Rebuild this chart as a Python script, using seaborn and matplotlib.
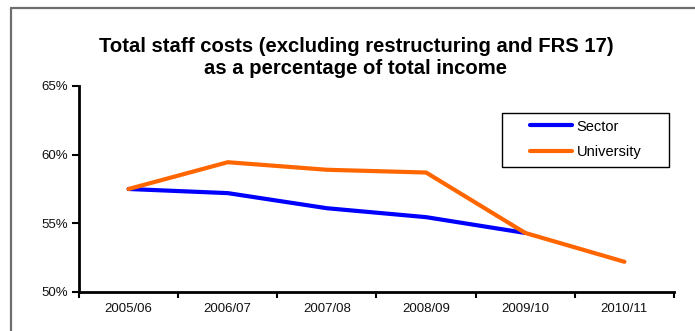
import numpy as np
import pandas as pd
import matplotlib
matplotlib.use("Agg")
import matplotlib.pyplot as plt
from matplotlib.lines import Line2D
from matplotlib.patches import Rectangle
import seaborn as sns

# Financial years and the two series (percent of total income)
years = ["2005/06", "2006/07", "2007/08", "2008/09", "2009/10", "2010/11"]
sector = [57.5, 57.2, 56.1, 55.45, 54.3, np.nan]
university = [57.5, 59.45, 58.9, 58.7, 54.3, 52.2]
y_ticks = [50, 55, 60, 65]

df = pd.DataFrame({
    "pos": list(range(len(years))) * 2,
    "value": sector + university,
    "series": ["Sector"] * len(years) + ["University"] * len(years),
})

sns.set_style("white")
plt.rcParams["font.family"] = ["Liberation Sans", "DejaVu Sans"]
plt.rcParams["text.color"] = "black"

W, H = 695, 331
fig = plt.figure(figsize=(W / 100, H / 100), dpi=100)
ax = fig.add_axes([79 / W, 1 - 292 / H, (674 - 79) / W, (292 - 86) / H])

sns.lineplot(data=df, x="pos", y="value", hue="series",
             palette={"Sector": "#0000ff", "University": "#ff6600"},
             linewidth=3, ax=ax, legend=False, sort=False)

ax.set_xlim(-0.5, len(years) - 0.5)
ax.set_ylim(50, 65)
ax.set_yticks(y_ticks)
ax.set_yticklabels([f"{v}%" for v in y_ticks], fontsize=9.5, color="#111111")
ax.set_xticks(range(len(years)))
ax.set_xticklabels(years, fontsize=9.5, color="#111111")
ax.set_xticks(np.arange(-0.5, len(years), 1.0), minor=True)
ax.tick_params(axis="x", which="major", length=0, pad=8)
ax.tick_params(axis="x", which="minor", length=4, width=1.5, color="black",
               direction="out", bottom=True)
ax.tick_params(axis="y", which="major", length=5, width=1.5, color="black",
               direction="out", left=True, pad=3)
ax.set_xlabel("")
ax.set_ylabel("")
for side in ("top", "right"):
    ax.spines[side].set_visible(False)
for side in ("left", "bottom"):
    ax.spines[side].set_color("black")
    ax.spines[side].set_linewidth(2)
ax.grid(False)

# Legend box drawn separately so the entries can sit inset within it
fig.add_artist(Rectangle((502 / W, 1 - 167 / H), (669 - 502) / W, (167 - 113) / H,
                         transform=fig.transFigure, facecolor="white",
                         edgecolor="black", lw=1, zorder=5))
handles = [Line2D([], [], color="#0000ff", lw=3),
           Line2D([], [], color="#ff6600", lw=3)]
leg = fig.legend(handles, ["Sector", "University"], loc="upper left",
                 bbox_to_anchor=(530 / W, 1 - 119.5 / H),
                 frameon=False, fontsize=10.5, handlelength=2.9,
                 handletextpad=0.3, borderpad=0, labelspacing=0.8,
                 borderaxespad=0)
leg.set_zorder(6)

fig.text(356 / W, 1 - 58 / H,
         "Total staff costs (excluding restructuring and FRS 17)\nas a percentage of total income",
         ha="center", va="center", fontsize=14.6, fontweight="bold",
         linespacing=1.2, color="black")

# Outer frame around the chart area
fig.add_artist(Line2D([11 / W, 11 / W], [0, 1 - 8 / H], color="#6e6e6e",
                      lw=1.6, transform=fig.transFigure))
fig.add_artist(Line2D([11 / W, 1], [1 - 8 / H, 1 - 8 / H], color="#6e6e6e",
                      lw=1.6, transform=fig.transFigure))

fig.savefig("out.png", dpi=100, facecolor="white")
